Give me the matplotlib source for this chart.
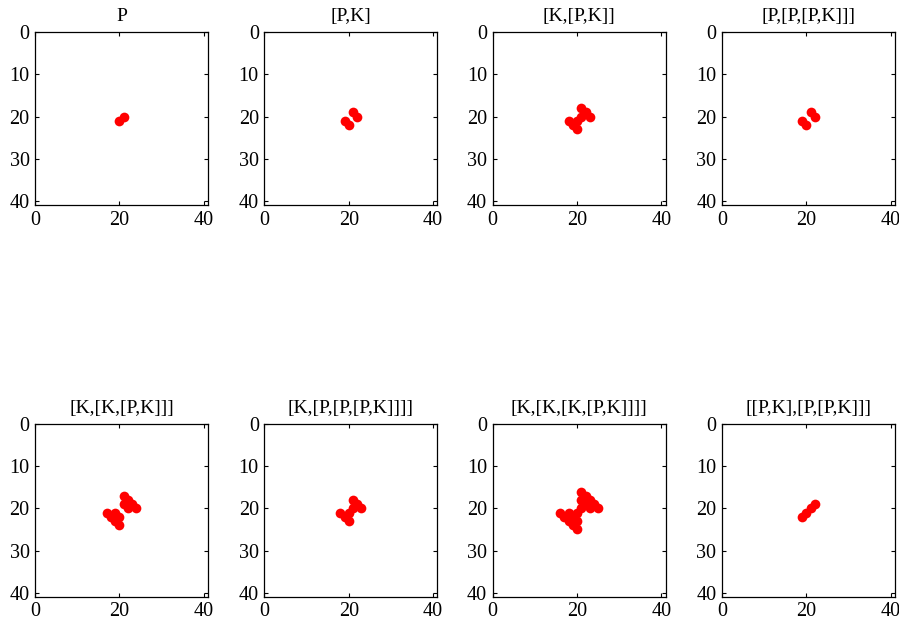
import matplotlib
matplotlib.use('Agg')
import matplotlib.pyplot as plt

plt.rcParams['font.family'] = ['Liberation Serif', 'DejaVu Serif']

titles = ['P', '[P,K]', '[K,[P,K]]', '[P,[P,[P,K]]]',
          '[K,[K,[P,K]]]', '[K,[P,[P,[P,K]]]]', '[K,[K,[K,[P,K]]]]', '[[P,K],[P,[P,K]]]']

# point coordinates (column, row) for each panel
p1_x = [20, 21]
p1_y = [21, 20]
p2_x = [19, 20, 21, 22]
p2_y = [21, 22, 19, 20]
p3_x = [18, 19, 20, 20, 21, 21, 22, 23]
p3_y = [21, 22, 23, 21, 20, 18, 19, 20]
p4_x = [19, 20, 21, 22]
p4_y = [21, 22, 19, 20]
p5_x = [17, 18, 19, 20, 19, 20, 21, 22, 23, 24, 21, 22]
p5_y = [21, 22, 23, 24, 21, 22, 17, 18, 19, 20, 19, 20]
p6_x = [18, 19, 20, 20, 21, 21, 22, 23]
p6_y = [21, 22, 23, 21, 20, 18, 19, 20]
p7_x = [16, 17, 18, 19, 20, 18, 19, 20, 20, 21, 21, 22, 23, 24, 25, 21, 22, 23]
p7_y = [21, 22, 23, 24, 25, 21, 22, 23, 21, 20, 16, 17, 18, 19, 20, 18, 19, 20]
p8_x = [19, 20, 21, 22]
p8_y = [22, 21, 20, 19]

xs = [p1_x, p2_x, p3_x, p4_x, p5_x, p6_x, p7_x, p8_x]
ys = [p1_y, p2_y, p3_y, p4_y, p5_y, p6_y, p7_y, p8_y]

fig = plt.figure(figsize=(8.99, 6.31), dpi=100)

lefts = [0.039, 0.294, 0.548, 0.803]
bottoms = [0.675, 0.054]
w, h = 0.1925, 0.274

for i in range(8):
    ax = fig.add_axes([lefts[i % 4], bottoms[i // 4], w, h])
    ax.plot(xs[i], ys[i], 'o', color='red', markersize=7, markeredgewidth=0)
    ax.set_xlim(0, 41)
    ax.set_ylim(41, 0)
    ax.set_xticks([0, 20, 40])
    ax.set_yticks([0, 10, 20, 30, 40])
    ax.tick_params(direction='in', top=True, right=True, labelsize=14.5, length=3, pad=4)
    ax.set_title(titles[i], fontsize=14, pad=8)
    for s in ax.spines.values():
        s.set_linewidth(0.9)

fig.savefig('out.png', dpi=100)
